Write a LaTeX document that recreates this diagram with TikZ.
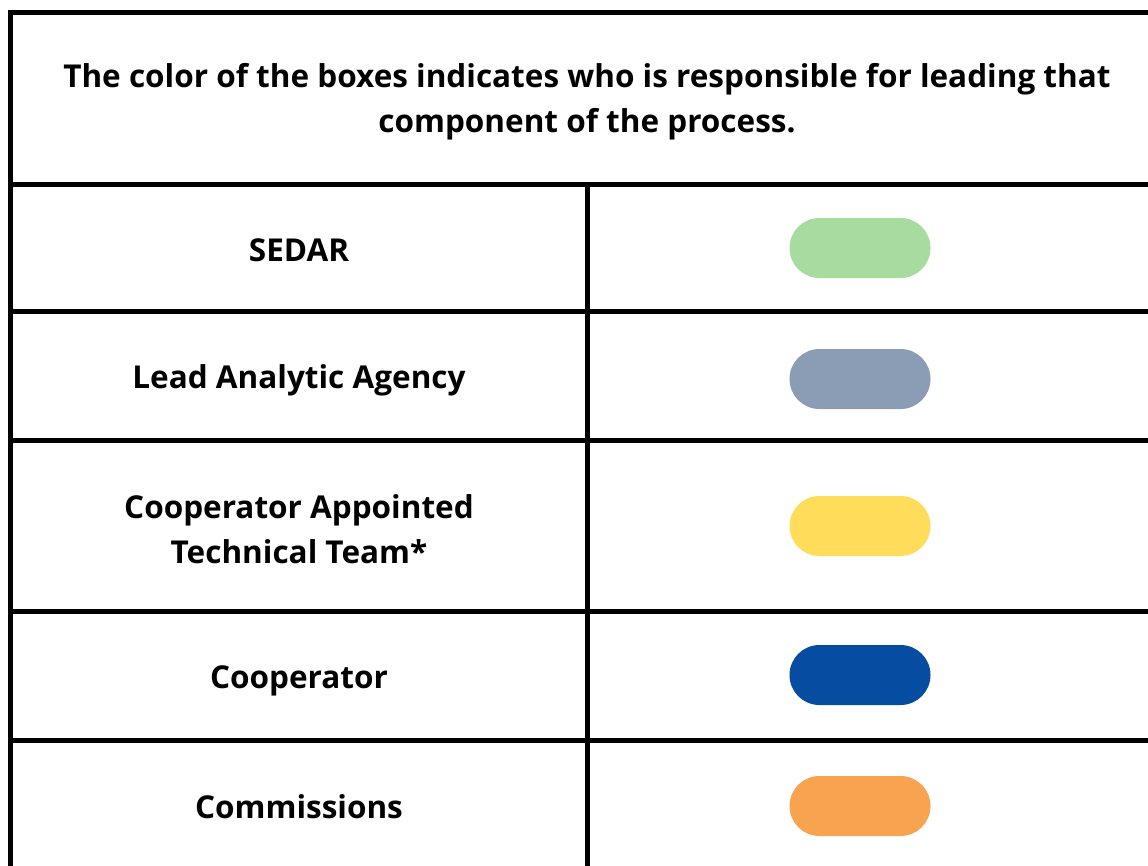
\documentclass[tikz,border=0pt]{standalone}
\usepackage{fontspec}
\setmainfont{Open Sans}
\definecolor{cgreen}{RGB}{168,219,160}
\definecolor{cgrey}{RGB}{138,157,181}
\definecolor{cyellow}{RGB}{255,221,90}
\definecolor{cblue}{RGB}{6,76,160}
\definecolor{corange}{RGB}{248,163,80}
\begin{document}
\begin{tikzpicture}[x=1pt,y=-1pt,
  rule/.style={line width=5pt,black},
  label/.style={font=\fontsize{31.5}{45}\selectfont\bfseries,align=center,inner sep=0pt},
  pill/.style={rectangle,minimum width=141pt,minimum height=60pt,rounded corners=29.9pt,inner sep=0pt,draw=none}]
\useasboundingbox (0,0) rectangle (1148,865);
\fill[white] (0,0) rectangle (1148,865);
\clip (0,0) rectangle (1148,865);
% grid
\draw[rule] (1160,12.5) -- (10.5,12.5) -- (10.5,880);
\draw[rule] (10.5,184.5) -- (1160,184.5);
\draw[rule] (10.5,311.5) -- (1160,311.5);
\draw[rule] (10.5,440) -- (1160,440);
\draw[rule] (10.5,611.5) -- (1160,611.5);
\draw[rule] (10.5,740.5) -- (1160,740.5);
\draw[rule] (587,184.5) -- (587,880);
% header
\node[label] (head) at (587,102) {The color of the boxes indicates who is responsible for leading that\\component of the process.};
% rows
\node[label] (l1) at (299,250) {SEDAR};
\node[label] (l2) at (299,380) {Lead Analytic Agency};
\node[label] (l3) at (299,529) {Cooperator Appointed\\Technical Team*};
\node[label] (l4) at (299,681) {Cooperator};
\node[label] (l5) at (299,807) {Commissions};
\node[pill,fill=cgreen]  (p1) at (860,248) {};
\node[pill,fill=cgrey]   (p2) at (860,379) {};
\node[pill,fill=cyellow] (p3) at (860,526) {};
\node[pill,fill=cblue]   (p4) at (860,675) {};
\node[pill,fill=corange] (p5) at (860,806) {};
\end{tikzpicture}
\end{document}
